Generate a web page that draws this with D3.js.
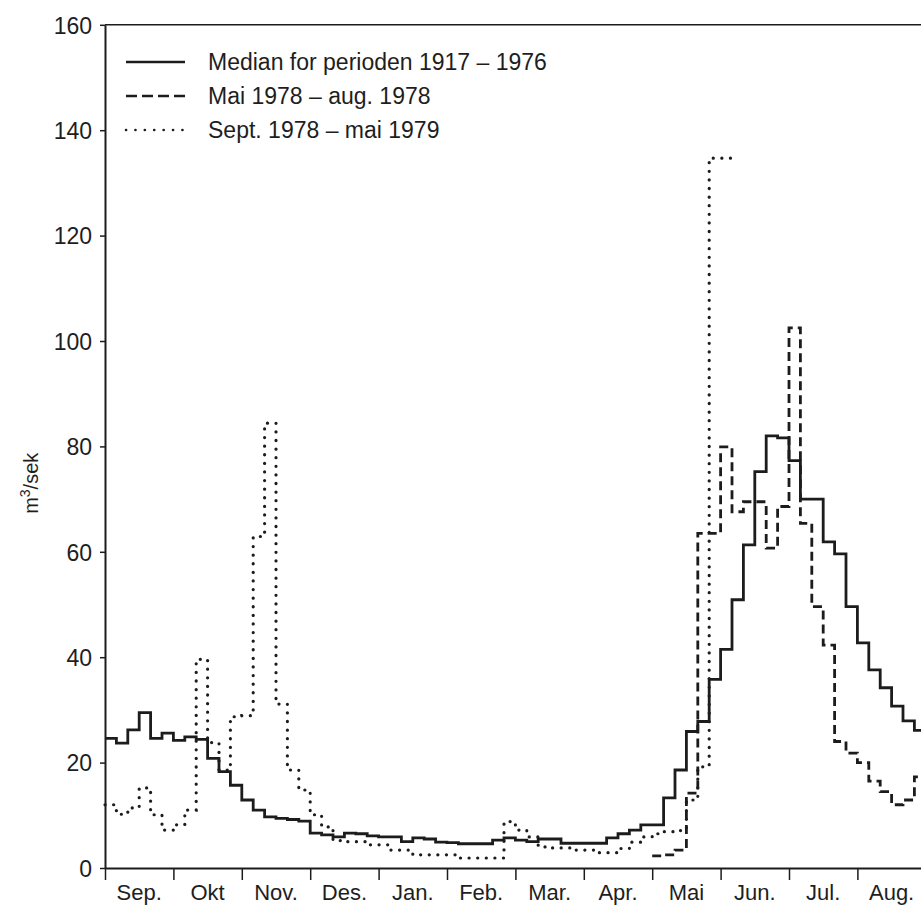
<!DOCTYPE html>
<html>
<head>
<meta charset="utf-8">
<script src="https://cdn.jsdelivr.net/npm/d3@7"></script>
<style>
  body { margin: 0; background: #fff; }
  svg { display: block; }
  text { font-family: "Liberation Sans", Arial, sans-serif; fill: #1e1e1e; }
</style>
</head>
<body>
<div id="chart"></div>
<script>
// month labels and y ticks
var months = ["Sep.", "Okt", "Nov.", "Des.", "Jan.", "Feb.", "Mar.", "Apr.", "Mai", "Jun.", "Jul.", "Aug."];
var yTicks = [0, 20, 40, 60, 80, 100, 120, 140, 160];

// 5-day means (6 per month), starting 1. Sep
var median = [
  24.6, 23.7, 26.2, 29.5, 24.6, 25.6, 24.2, 24.9, 24.4, 20.8,
  18.3, 15.7, 12.9, 11.0, 9.7, 9.4, 9.2, 8.9, 6.6, 6.3,
  5.9, 6.6, 6.5, 6.1, 5.9, 5.9, 5.0, 5.7, 5.5, 4.9,
  4.8, 4.6, 4.6, 4.6, 5.3, 5.7, 5.3, 5.0, 5.5, 5.5,
  4.7, 4.7, 4.7, 4.7, 5.7, 6.5, 7.2, 8.2, 8.2, 13.3,
  18.6, 25.9, 27.8, 35.8, 41.5, 50.9, 61.3, 75.2, 82.0, 81.6,
  77.3, 70.0, 70.0, 61.9, 59.6, 49.6, 42.7, 37.6, 34.2, 30.7,
  27.9, 26.1
];

// Mai 1978 - aug. 1978, starts at pentad 48
var mai78Start = 48;
var mai78 = [
  2.3, 2.5, 3.4, 14.2, 63.5, 63.5, 79.9, 67.6, 69.5, 69.5,
  60.7, 68.6, 102.5, 65.4, 49.6, 42.3, 24.0, 21.8, 20.0, 16.5,
  14.5, 12.0, 12.9, 17.3
];

// Sept. 1978 - mai 1979, starts at pentad 0
var sept78 = [
  12.0, 10.2, 11.4, 15.2, 10.1, 7.2, 8.2, 11.0, 39.6, 23.8,
  18.6, 28.7, 28.9, 62.9, 84.4, 31.1, 18.6, 14.8, 10.1, 7.8,
  5.2, 5.0, 5.0, 4.4, 4.4, 3.4, 3.4, 2.5, 2.5, 2.5,
  2.5, 1.9, 1.9, 1.9, 1.9, 8.8, 7.2, 5.9, 4.0, 3.8,
  3.8, 3.4, 3.4, 2.9, 2.9, 3.7, 4.9, 5.9, 6.5, 6.9,
  7.1, 12.9, 19.2, 134.7, 134.7
];

var legendItems = ["Median for perioden 1917 \u2013 1976", "Mai 1978 \u2013 aug. 1978", "Sept. 1978 \u2013 mai 1979"];

var width = 921, height = 907;
var plotLeft = 105, plotRight = 925.8, plotBottom = 868, plotTop = 24.8;

var svg = d3.select("#chart").append("svg")
  .attr("width", width)
  .attr("height", height);

var x = d3.scaleLinear().domain([0, 72]).range([plotLeft, plotRight]);
var xMonth = d3.scaleLinear().domain([0, 12]).range([plotLeft, plotRight]);
var xBand = d3.scaleBand().domain(months).range([plotLeft, plotRight]);
var y = d3.scaleLinear().domain([0, 160]).range([plotBottom, plotTop]);

var ink = "#1c1c1c";

// step series: each value holds for one pentad
function steps(values, start) {
  var pts = values.map(function(v, i) { return [start + i, v]; });
  pts.push([start + values.length, values[values.length - 1]]);
  return pts;
}
var line = d3.line()
  .x(function(d) { return x(d[0]); })
  .y(function(d) { return y(d[1]); })
  .curve(d3.curveStepAfter);

// y axis
var yAxis = svg.append("g")
  .attr("transform", "translate(" + plotLeft + ",0)")
  .call(d3.axisLeft(y).tickValues(yTicks).tickSize(5).tickSizeOuter(0).tickPadding(8));
yAxis.select(".domain").attr("stroke", ink).attr("stroke-width", 2);
yAxis.selectAll(".tick line").attr("stroke", ink).attr("stroke-width", 1.5);
yAxis.selectAll(".tick text").style("font-size", "23px").attr("dy", "0.36em").attr("fill", ink);

// x axis ticks at month borders
var xAxis = svg.append("g")
  .attr("transform", "translate(0," + plotBottom + ")")
  .call(d3.axisBottom(xMonth).tickValues(d3.range(0, 12)).tickSize(12).tickSizeOuter(0).tickFormat(""));
xAxis.select(".domain").attr("stroke", ink).attr("stroke-width", 2);
xAxis.selectAll(".tick line").attr("stroke", ink).attr("stroke-width", 1.5);

// month labels
var xLabels = svg.append("g")
  .attr("transform", "translate(0," + plotBottom + ")")
  .call(d3.axisBottom(xBand).tickSize(0).tickPadding(16));
xLabels.select(".domain").remove();
xLabels.selectAll(".tick text").style("font-size", "22px").attr("fill", ink);

// top frame line
svg.append("line")
  .attr("x1", plotLeft).attr("x2", plotRight)
  .attr("y1", y(160)).attr("y2", y(160))
  .attr("stroke", ink).attr("stroke-width", 1.5);

// y label
svg.append("text")
  .attr("transform", "translate(38," + y(73) + ") rotate(-90)")
  .attr("text-anchor", "middle")
  .style("font-size", "20px")
  .html('m<tspan dy="-8" font-size="14px">3</tspan><tspan dy="8">/sek</tspan>');

// series
svg.append("path")
  .attr("d", line(steps(sept78, 0)))
  .attr("fill", "none").attr("stroke", ink)
  .attr("stroke-width", 3.2).attr("stroke-linecap", "round")
  .attr("stroke-dasharray", "0.1,8.5");

svg.append("path")
  .attr("d", line(steps(mai78, mai78Start)))
  .attr("fill", "none").attr("stroke", ink)
  .attr("stroke-width", 2.8)
  .attr("stroke-dasharray", "9,5");

svg.append("path")
  .attr("d", line(steps(median, 0)))
  .attr("fill", "none").attr("stroke", ink)
  .attr("stroke-width", 2.8);

// legend
var legendY = [62, 96, 130];
var legendDash = [null, "11,5", "0.1,9.3"];
var legend = svg.append("g");
legendItems.forEach(function(name, i) {
  legend.append("line")
    .attr("x1", 126).attr("x2", 185)
    .attr("y1", legendY[i]).attr("y2", legendY[i])
    .attr("stroke", ink)
    .attr("stroke-width", i === 2 ? 2.6 : 2.6)
    .attr("stroke-linecap", i === 2 ? "round" : "butt")
    .attr("stroke-dasharray", legendDash[i]);
  legend.append("text")
    .attr("x", 208).attr("y", legendY[i])
    .attr("dy", "0.36em")
    .style("font-size", "23px")
    .text(name);
});
</script>
</body>
</html>
